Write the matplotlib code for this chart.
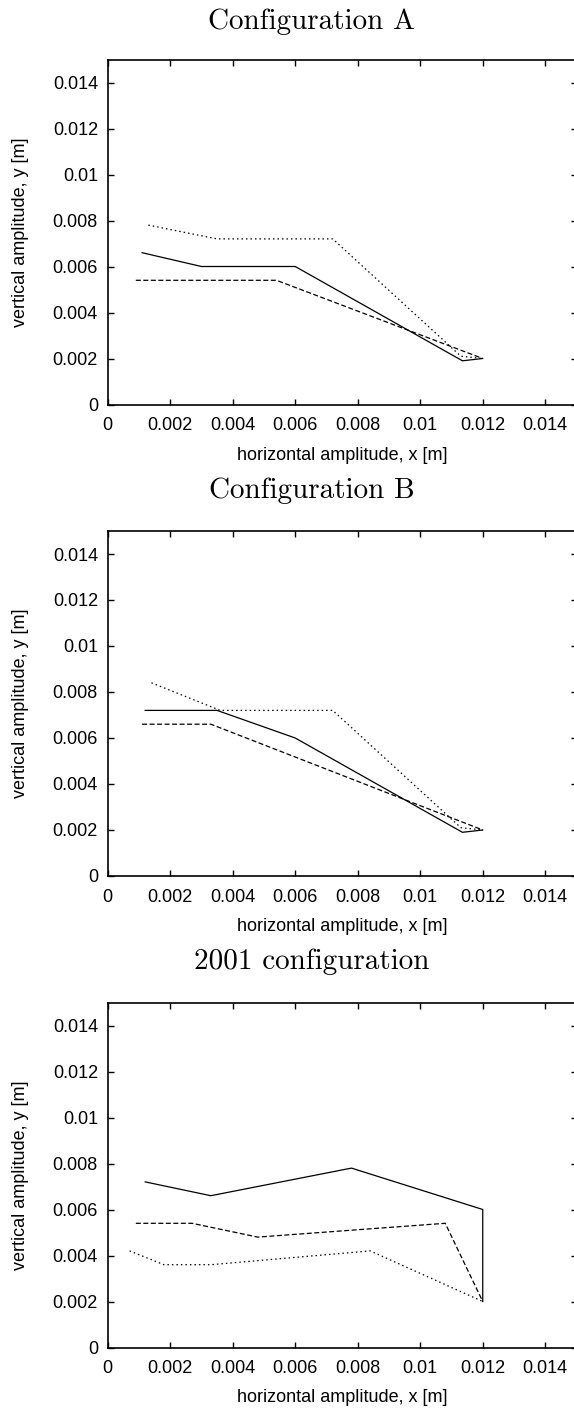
import matplotlib
matplotlib.use("Agg")
import matplotlib.pyplot as plt
from matplotlib.ticker import FuncFormatter

# DATA
titles = ["Configuration A", "Configuration B", "2001 configuration"]
ticks = [0, 0.002, 0.004, 0.006, 0.008, 0.01, 0.012, 0.014]

# configuration A
a_solid_x = [0.0011, 0.0030, 0.0060, 0.01135, 0.0120]
a_solid_y = [0.0066, 0.0060, 0.0060, 0.0019, 0.0020]
a_dash_x = [0.0009, 0.0054, 0.0120]
a_dash_y = [0.0054, 0.0054, 0.0020]
a_dot_x = [0.0013, 0.0035, 0.0072, 0.0113, 0.0120]
a_dot_y = [0.0078, 0.0072, 0.0072, 0.0021, 0.0020]

# configuration B
b_solid_x = [0.0012, 0.0035, 0.0060, 0.01135, 0.0120]
b_solid_y = [0.0072, 0.0072, 0.0060, 0.0019, 0.0020]
b_dash_x = [0.0011, 0.0033, 0.0120]
b_dash_y = [0.0066, 0.0066, 0.0020]
b_dot_x = [0.0014, 0.0036, 0.0072, 0.0113, 0.0120]
b_dot_y = [0.0084, 0.0072, 0.0072, 0.0021, 0.0020]

# 2001 configuration
c_solid_x = [0.0012, 0.0033, 0.0078, 0.0120, 0.0120]
c_solid_y = [0.0072, 0.0066, 0.0078, 0.0060, 0.0020]
c_dash_x = [0.0009, 0.0027, 0.0048, 0.0108, 0.0120]
c_dash_y = [0.0054, 0.0054, 0.0048, 0.0054, 0.0020]
c_dot_x = [0.0007, 0.0018, 0.0033, 0.0084, 0.0120]
c_dot_y = [0.0042, 0.0036, 0.0036, 0.0042, 0.0020]

panels = [
    (a_solid_x, a_solid_y, a_dash_x, a_dash_y, a_dot_x, a_dot_y),
    (b_solid_x, b_solid_y, b_dash_x, b_dash_y, b_dot_x, b_dot_y),
    (c_solid_x, c_solid_y, c_dash_x, c_dash_y, c_dot_x, c_dot_y),
]

# FIGURE
plt.rcParams['font.family'] = ['Liberation Sans', 'DejaVu Sans']
W, H = 574, 1408
fig = plt.figure(figsize=(W / 100, H / 100), dpi=100)

left = 107.7 / W
width = (576.5 - 107.7) / W
height = 345 / H
bottoms_px = [404.5, 876.0, 1347.5]
title_px = [22, 491, 962]

fmt = FuncFormatter(lambda v, p: f"{v:g}")

for i, (sx, sy, dx, dy, ox, oy) in enumerate(panels):
    ax = fig.add_axes([left, 1 - bottoms_px[i] / H, width, height])
    ax.plot(sx, sy, color='black', lw=0.9)
    ax.plot(dx, dy, color='black', lw=0.9, dashes=(4, 2))
    ax.plot(ox, oy, color='black', lw=0.9, dashes=(1.2, 2.4))
    ax.set_xlim(0, 0.015)
    ax.set_ylim(0, 0.015)
    ax.set_xticks(ticks)
    ax.set_yticks(ticks)
    ax.xaxis.set_major_formatter(fmt)
    ax.yaxis.set_major_formatter(fmt)
    ax.tick_params(direction='in', top=True, right=True, length=4, width=1,
                   labelsize=13)
    ax.tick_params(axis='x', pad=9)
    ax.tick_params(axis='y', pad=7)
    for s in ax.spines.values():
        s.set_linewidth(1.2)
    ax.set_xlabel("horizontal amplitude, x [m]", fontsize=13, labelpad=9)
    ax.set_ylabel("vertical amplitude, y [m]", fontsize=13, labelpad=17)
    fig.text(312 / W, 1 - title_px[i] / H, titles[i], fontfamily='cmr10',
             fontsize=21, ha='center', va='center')

fig.savefig("out.png", dpi=100)
